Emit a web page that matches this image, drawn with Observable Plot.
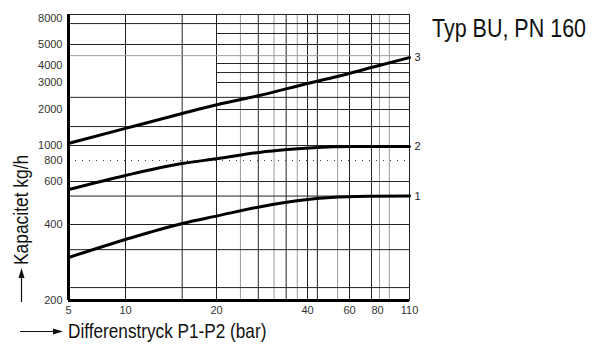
<!DOCTYPE html>
<html><head><meta charset="utf-8">
<script src="https://cdn.jsdelivr.net/npm/d3@7"></script>
<script src="https://cdn.jsdelivr.net/npm/@observablehq/plot@0.6"></script>
<style>
html,body{margin:0;padding:0;background:#fff;}
#wrap{position:relative;width:603px;height:345px;overflow:hidden;background:#fff;}
#wrap svg{position:absolute;left:0;top:0;}
.ttl{font-family:"Liberation Sans",Arial,sans-serif;fill:#111;}
</style></head><body><div id="wrap"></div>
<script>
// Tick values (axis labels)
const xTicks = [5, 10, 20, 40, 60, 80, 110];
const yTicks = [200, 400, 600, 800, 1000, 2000, 3000, 4000, 5000, 8000];

// Series (curve number, differential pressure in bar, capacity in kg/h)
const seriesNames = ["1", "2", "3"];
const dp1  = [5, 10, 15.4, 20.3, 27.7, 34.1, 43.6, 58.9, 74.6, 110];
const cap1 = [296, 349, 404, 435, 472, 493, 511, 520, 522, 523];
const dp2  = [5, 10, 15.4, 20.3, 27.7, 34.3, 42.4, 62.5, 110];
const cap2 = [556, 652, 768, 824, 902, 941, 968, 984, 986];
const dp3  = [5, 10, 15.4, 20.2, 27.7, 40, 53.3, 75.2, 110];
const cap3 = [1040, 1390, 1850, 2155, 2470, 2955, 3320, 3865, 4350];

// Grid line values
const gridXDark  = [10, 15.4, 20, 27.5, 34, 40, 44, 60, 75.2];
const gridXLight = [24, 31, 37, 53.5, 81.6, 90];
const gridYFull  = [7300, 5000, 2400, 1440, 1000, 600, 523, 400, 318, 225];
const gridYRight = [6100, 4085, 3550, 3000, 2000];
const gridYLight = [4440];
const gridYDotted = [800];

const dps = [dp1, dp2, dp3];
const caps = [cap1, cap2, cap3];
const data = seriesNames.flatMap((s, i) => dps[i].map((d, j) => ({series: s, dp: d, cap: caps[i][j]})));
const ends = seriesNames.map((s, i) => ({series: s, dp: dps[i][dps[i].length - 1], cap: caps[i][caps[i].length - 1]}));

const chart = Plot.plot({
  width: 603, height: 345,
  marginLeft: 68, marginRight: 194, marginTop: 14, marginBottom: 45,
  style: {fontFamily: "'Liberation Sans', Arial, sans-serif", fontSize: "11px", color: "#333", background: "#fff"},
  x: {type: "log", domain: xTicks, range: [68, 125, 216, 307, 349, 377, 409], axis: null},
  y: {type: "log", domain: yTicks, range: [300, 224, 181, 160, 145, 109, 82, 65, 44, 18], axis: null},
  marks: [
    Plot.ruleX(gridXLight, {stroke: "#9a9a9a", strokeWidth: 1}),
    Plot.ruleX(gridXDark, {stroke: "#222", strokeWidth: 1}),
    Plot.ruleY(gridYLight, {stroke: "#9a9a9a", strokeWidth: 1}),
    Plot.ruleY(gridYFull, {stroke: "#222", strokeWidth: 1}),
    Plot.ruleY(gridYRight, {x1: 20, x2: 110, stroke: "#222", strokeWidth: 1}),
    Plot.ruleY(gridYDotted, {stroke: "#444", strokeWidth: 1, strokeDasharray: "1,6"}),
    Plot.frame({stroke: "#222", strokeWidth: 1}),
    Plot.ruleX([xTicks[0]], {stroke: "#000", strokeWidth: 3}),
    Plot.ruleY([yTicks[0]], {stroke: "#000", strokeWidth: 3}),
    Plot.line(data, {x: "dp", y: "cap", z: "series", curve: "monotone-x", stroke: "#000", strokeWidth: 3}),
    Plot.text(ends, {x: "dp", y: "cap", text: "series", dx: 5, textAnchor: "start", fill: "#222", fontSize: 11}),
    // tick labels
    Plot.text(yTicks, {y: d => d, text: d => String(d), frameAnchor: "left", dx: -6, textAnchor: "end", fill: "#333", fontSize: 11}),
    Plot.text(xTicks, {x: d => d, text: d => String(d), frameAnchor: "bottom", dy: 13, fill: "#333", fontSize: 11})
  ]
});
const wrap = document.getElementById("wrap");
wrap.appendChild(chart);

// Titles and arrows overlay
const ns = "http://www.w3.org/2000/svg";
const ov = document.createElementNS(ns, "svg");
ov.setAttribute("width", 603); ov.setAttribute("height", 345);
ov.innerHTML = `
  <text class="ttl" transform="translate(432,37) scale(0.86,1)" font-size="25">Typ BU, PN 160</text>
  <text class="ttl" transform="translate(28,265) rotate(-90) scale(0.87,1)" font-size="20">Kapacitet kg/h</text>
  <text class="ttl" transform="translate(68,338) scale(0.86,1)" font-size="20">Differenstryck P1-P2 (bar)</text>
  <line x1="21.5" y1="302" x2="21.5" y2="276" stroke="#111" stroke-width="1.2"/>
  <path d="M21.5,268 L18.5,278 L24.5,278 Z" fill="#111"/>
  <line x1="20" y1="331.5" x2="54" y2="331.5" stroke="#111" stroke-width="1.2"/>
  <path d="M63,331.5 L53,328.5 L53,334.5 Z" fill="#111"/>
`;
wrap.appendChild(ov);
</script>
</body></html>
